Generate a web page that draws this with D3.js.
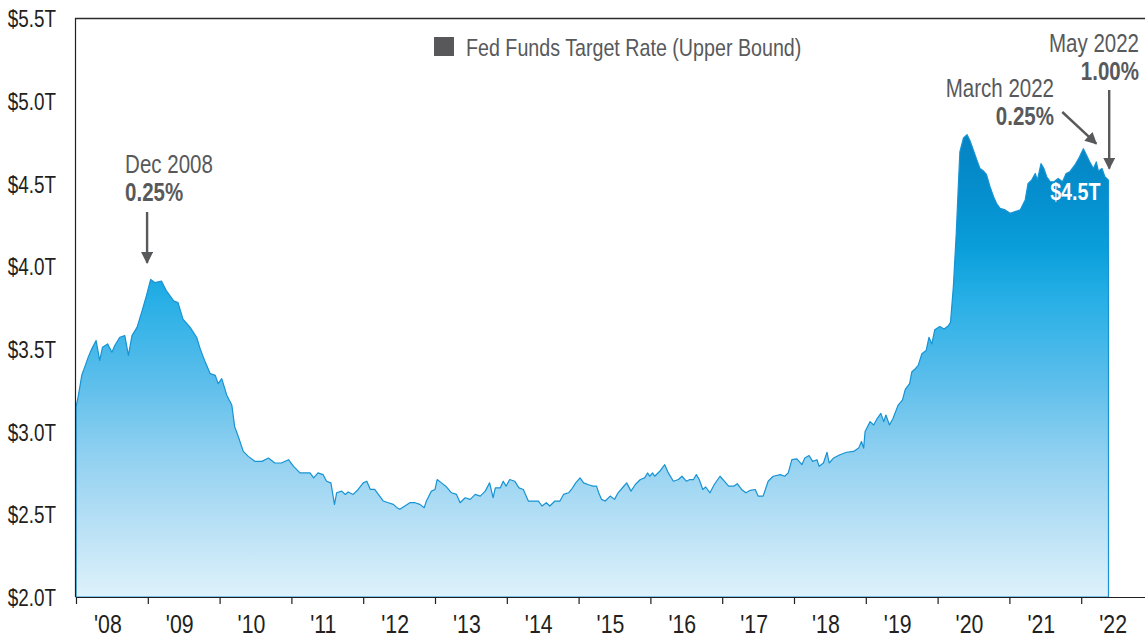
<!DOCTYPE html>
<html>
<head>
<meta charset="utf-8">
<script src="https://cdn.jsdelivr.net/npm/d3@7"></script>
<style>
	body { margin: 0; background: #fff; }
	text { font-family: "Liberation Sans", Arial, sans-serif; }
</style>
</head>
<body>
<div id="chart"></div>
<script>
// money fund assets ($ trillions), position in decimal years
var dateYr = [
	2008.00,2008.03,2008.08,2008.13,2008.17,2008.22,2008.28,2008.33,2008.37,2008.44,2008.50,2008.54,2008.61,2008.68,2008.73,2008.78,2008.85,2008.92,2008.98,
	2009.04,2009.10,2009.19,2009.26,2009.36,2009.42,2009.49,2009.59,2009.68,2009.73,2009.80,2009.87,2009.94,2009.98,
	2010.03,2010.10,2010.17,2010.21,2010.26,2010.33,2010.40,2010.49,2010.59,2010.68,2010.77,2010.86,2010.96,
	2011.03,2011.12,2011.26,2011.31,2011.37,2011.44,2011.49,2011.55,2011.60,2011.63,2011.70,2011.75,2011.79,2011.86,2011.93,
	2012.00,2012.05,2012.10,2012.16,2012.23,2012.28,2012.35,2012.42,2012.47,2012.51,2012.58,2012.65,2012.72,2012.79,2012.85,2012.88,2012.95,
	2013.00,2013.03,2013.09,2013.15,2013.23,2013.30,2013.35,2013.42,2013.49,2013.56,2013.63,2013.70,2013.76,2013.81,2013.84,2013.91,2013.95,2013.99,
	2014.04,2014.11,2014.17,2014.23,2014.30,2014.37,2014.44,2014.49,2014.55,2014.60,2014.67,2014.74,2014.79,2014.86,2014.90,2014.96,
	2015.02,2015.07,2015.13,2015.20,2015.25,2015.28,2015.32,2015.37,2015.44,2015.50,2015.55,2015.62,2015.67,2015.73,2015.79,2015.86,2015.92,2015.96,2015.99,
	2016.03,2016.06,2016.13,2016.20,2016.25,2016.32,2016.39,2016.44,2016.50,2016.55,2016.60,2016.64,2016.68,2016.73,2016.77,2016.83,2016.89,2016.97,
	2017.03,2017.09,2017.16,2017.21,2017.27,2017.33,2017.39,2017.46,2017.50,2017.57,2017.64,2017.71,2017.81,2017.87,2017.92,2017.97,
	2018.04,2018.11,2018.15,2018.21,2018.26,2018.32,2018.35,2018.41,2018.46,2018.49,2018.55,2018.64,2018.73,2018.83,2018.90,2018.94,2018.97,2018.99,
	2019.06,2019.11,2019.16,2019.21,2019.25,2019.28,2019.33,2019.38,2019.45,2019.51,2019.55,2019.61,2019.64,2019.69,2019.73,2019.78,2019.84,2019.88,2019.92,2019.96,
	2020.03,2020.09,2020.15,2020.18,2020.22,2020.26,2020.29,2020.31,2020.36,2020.41,2020.45,2020.50,2020.54,2020.59,2020.64,2020.68,2020.73,2020.78,2020.82,2020.87,2020.94,
	2021.01,2021.08,2021.15,2021.22,2021.26,2021.31,2021.36,2021.39,2021.44,2021.48,2021.52,2021.57,2021.62,2021.68,2021.74,2021.79,2021.84,2021.91,2021.97,
	2022.03,2022.08,2022.12,2022.17,2022.21,2022.24,2022.29,2022.33,2022.38
];

var assetsT = [
	3.15,3.21,3.34,3.40,3.45,3.50,3.55,3.43,3.51,3.53,3.48,3.52,3.57,3.58,3.46,3.58,3.63,3.73,3.82,
	3.92,3.90,3.91,3.85,3.79,3.78,3.68,3.63,3.57,3.50,3.42,3.35,3.34,3.29,
	3.32,3.22,3.16,3.03,2.97,2.88,2.85,2.82,2.82,2.84,2.81,2.81,2.83,
	2.79,2.75,2.75,2.72,2.75,2.74,2.70,2.69,2.56,2.63,2.64,2.62,2.635,2.62,2.65,
	2.69,2.70,2.65,2.65,2.61,2.58,2.57,2.56,2.54,2.53,2.55,2.57,2.57,2.56,2.54,2.58,2.64,
	2.65,2.71,2.69,2.67,2.63,2.62,2.57,2.60,2.59,2.62,2.61,2.64,2.69,2.60,2.66,2.66,2.70,2.67,
	2.71,2.70,2.66,2.65,2.58,2.58,2.58,2.55,2.57,2.55,2.58,2.58,2.62,2.63,2.65,2.69,
	2.72,2.69,2.68,2.67,2.67,2.63,2.59,2.58,2.61,2.59,2.63,2.665,2.69,2.64,2.68,2.71,2.72,2.75,2.73,
	2.75,2.73,2.76,2.80,2.75,2.70,2.71,2.73,2.70,2.71,2.71,2.74,2.71,2.65,2.665,2.63,2.68,2.73,
	2.70,2.67,2.67,2.685,2.65,2.63,2.645,2.65,2.61,2.61,2.70,2.73,2.74,2.73,2.75,2.83,
	2.835,2.80,2.84,2.855,2.82,2.83,2.79,2.81,2.875,2.81,2.84,2.86,2.875,2.88,2.90,2.94,2.90,3.00,
	3.06,3.04,3.08,3.11,3.06,3.10,3.04,3.08,3.16,3.19,3.255,3.29,3.36,3.38,3.40,3.47,3.49,3.57,3.53,3.615,
	3.635,3.62,3.64,3.66,3.88,4.20,4.50,4.69,4.775,4.795,4.76,4.70,4.65,4.59,4.575,4.555,4.48,4.42,4.38,4.35,4.34,
	4.32,4.33,4.34,4.40,4.50,4.52,4.56,4.52,4.62,4.59,4.54,4.51,4.51,4.53,4.51,4.56,4.57,4.61,4.655,
	4.71,4.665,4.63,4.59,4.63,4.575,4.59,4.54,4.52
];

var yTicks = [2.0, 2.5, 3.0, 3.5, 4.0, 4.5, 5.0, 5.5];
var yearTicks = d3.range(2008, 2023);
var legendLabel = "Fed Funds Target Rate (Upper Bound)";
var lastLabel = "$4.5T";

// rate-change notes: where the arrow points (date, $T) and the text
var noteWhen = [2008.99, 2022.21, 2022.39];
var noteTip = [4.02, 4.74, 4.59];
var noteTitle = ["Dec 2008", "March 2022", "May 2022"];
var noteRate = ["0.25%", "0.25%", "1.00%"];

var data = dateYr.map(function(d, i) { return { t: d, v: assetsT[i] }; });

var margin = { top: 18, left: 76, right: 0, bottom: 44 },
	width = 1145 - margin.left - margin.right,
	height = 641 - margin.top - margin.bottom;

// no condensed face installed, so squeeze a normal one sideways
var NARROW = 0.82;
function at(px, py) { return "translate(" + px + "," + py + ") scale(" + NARROW + ",1)"; }

var svg = d3.select("#chart")
	.append("svg")
	.attr("width", 1145)
	.attr("height", 641);

var g = svg.append("g")
	.attr("transform", "translate(" + margin.left + "," + margin.top + ")");

var x = d3.scaleLinear().domain([2008, 2008 + width / 71.8]).range([0, width]);
var y = d3.scaleLinear().domain([2.0, 5.5]).range([height, 0]);

// vertical gradient, light at the bottom to deep blue at the top
var defs = svg.append("defs");
var grad = defs.append("linearGradient")
	.attr("id", "fill")
	.attr("gradientUnits", "userSpaceOnUse")
	.attr("x1", 0).attr("x2", 0)
	.attr("y1", y(2.0)).attr("y2", y(4.8));
[[2.0, "#def2fb"], [2.47, "#b5dff5"], [2.89, "#8dcff0"], [3.31, "#5bbeeb"],
 [3.8, "#27afe6"], [4.1, "#0a9fdb"], [4.4, "#0590cf"], [4.8, "#0582c1"]].forEach(function(s) {
	grad.append("stop")
		.attr("offset", ((s[0] - 2.0) / 2.8 * 100) + "%")
		.attr("stop-color", s[1]);
});

defs.append("marker")
	.attr("id", "head")
	.attr("markerUnits", "userSpaceOnUse")
	.attr("viewBox", "0 0 10 10")
	.attr("markerWidth", 12).attr("markerHeight", 12)
	.attr("refX", 9).attr("refY", 5)
	.attr("orient", "auto")
	.append("path")
	.attr("d", "M0,0L10,5L0,10Z")
	.attr("fill", "#58595b");

var area = d3.area()
	.x(function(d) { return x(d.t); })
	.y0(height)
	.y1(function(d) { return y(d.v); });

g.append("path")
	.datum(data)
	.attr("d", area)
	.attr("fill", "url(#fill)")
	.attr("stroke", "#1793d3")
	.attr("stroke-width", 1.2)
	.attr("stroke-linejoin", "round");

// frame: left axis, top rule, bottom axis
g.append("line")
	.attr("x1", -0.5).attr("x2", -0.5).attr("y1", 0).attr("y2", height)
	.attr("stroke", "#231f20").attr("stroke-width", 1.2);
g.append("line")
	.attr("x1", -1).attr("x2", width).attr("y1", 0.5).attr("y2", 0.5)
	.attr("stroke", "#2b2b2b").attr("stroke-width", 1.4);

var xAxis = d3.axisBottom(x)
	.tickValues(yearTicks)
	.tickSize(7)
	.tickSizeOuter(0)
	.tickFormat("");

g.append("g")
	.attr("class", "x axis")
	.attr("transform", "translate(0," + height + ")")
	.call(xAxis)
	.call(function(a) {
		a.select(".domain").attr("stroke", "#231f20").attr("stroke-width", 1.2);
		a.selectAll(".tick line").attr("stroke", "#231f20").attr("stroke-width", 1.2);
	});

g.selectAll(".year-label")
	.data(yearTicks)
	.enter()
	.append("text")
	.attr("class", "year-label")
	.attr("transform", function(d) { return at(x(d + 0.5) - 4, height + 36); })
	.attr("text-anchor", "middle")
	.attr("font-size", 26)
	.attr("fill", "#231f20")
	.text(function(d) { return "'" + String(d).slice(2); });

g.selectAll(".y-label")
	.data(yTicks)
	.enter()
	.append("text")
	.attr("class", "y-label")
	.attr("transform", function(d) { return at(-20, y(d)); })
	.attr("dy", "0.4em")
	.attr("text-anchor", "end")
	.attr("font-size", 23)
	.attr("fill", "#231f20")
	.text(function(d) { return "$" + d.toFixed(1) + "T"; });

// legend
svg.append("rect")
	.attr("x", 434).attr("y", 37)
	.attr("width", 20).attr("height", 19)
	.attr("fill", "#58585a");
svg.append("text")
	.attr("transform", at(466, 56))
	.attr("font-size", 24)
	.attr("fill", "#58595b")
	.text(legendLabel);

// latest value inside the area
g.append("text")
	.attr("transform", at(x(dateYr[dateYr.length - 1]) - 8, y(4.5) + 17))
	.attr("text-anchor", "end")
	.attr("font-size", 24)
	.attr("font-weight", "bold")
	.attr("fill", "#fff")
	.text(lastLabel);

// notes: text anchor, arrow tail offsets (px)
var noteLayout = [
	{ tx: -22, ty1: 173, anchor: "start", ax: 0, ay: 212 },
	{ tx: 1054 - margin.left, ty1: 97, anchor: "end", ax: -34, ay: 112 },
	{ tx: 1139 - margin.left, ty1: 52, anchor: "end", ax: 0, ay: 90 }
];

noteWhen.forEach(function(w, i) {
	var L = noteLayout[i];
	var px = x(w);
	var tx = i === 0 ? px + L.tx : L.tx;
	g.append("text")
		.attr("transform", at(tx, L.ty1 - margin.top))
		.attr("text-anchor", L.anchor)
		.attr("font-size", 25)
		.attr("fill", "#58595b")
		.text(noteTitle[i]);
	g.append("text")
		.attr("transform", at(tx, L.ty1 + 28 - margin.top))
		.attr("text-anchor", L.anchor)
		.attr("font-size", 25)
		.attr("font-weight", "bold")
		.attr("fill", "#58595b")
		.text(noteRate[i]);
	g.append("line")
		.attr("x1", px + L.ax).attr("y1", L.ay - margin.top)
		.attr("x2", px).attr("y2", y(noteTip[i]))
		.attr("stroke", "#58595b")
		.attr("stroke-width", 2.4)
		.attr("marker-end", "url(#head)");
});
</script>
</body>
</html>
